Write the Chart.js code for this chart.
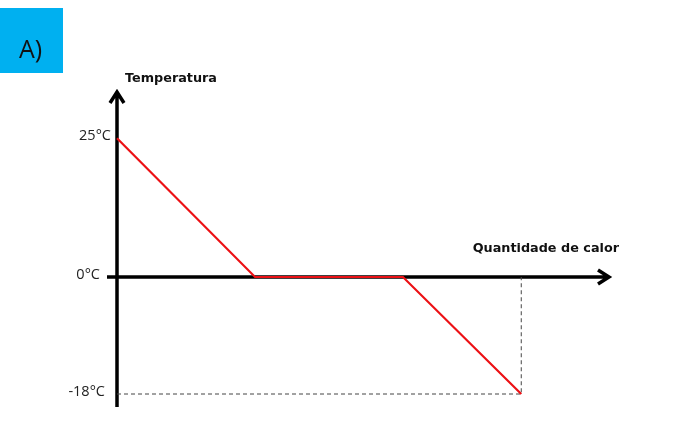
<!DOCTYPE html>
<html lang="pt">
<head>
    <meta charset="UTF-8">
    <title>Temperatura x Quantidade de calor</title>
    <script src="https://cdn.jsdelivr.net/npm/chart.js"></script>
    <style>
        body { margin: 0; background: #fff; }
        canvas { display: block; }
    </style>
</head>
<body>
    <canvas id="heatChart" width="690" height="440"></canvas>
    <script>
        // data (heat in arbitrary units)
        const heat = [0, 2.8, 5.8, 8.2];
        const temperature = [25, 0, 0, -18];
        const guideHeat = [0, 8.2, 8.2];
        const guideTemp = [-18, -18, 0];
        const tickTemps = [25, 0, -18];
        const tickLabels = ['25°C', '0°C', '-18°C'];

        // the sketch is not to scale: above and below zero use different steps
        class SplitScale extends Chart.LinearScale {
            getPixelForValue(v) {
                const z = this.options.zeroAt;
                const d = v >= 0 ? z + (1 - z) * v / this.max : z * (v - this.min) / -this.min;
                return this.getPixelForDecimal(d);
            }
            getValueForPixel(p) {
                const z = this.options.zeroAt;
                const d = this.getDecimalForPixel(p);
                return d >= z ? (d - z) / (1 - z) * this.max : this.min - d / z * this.min;
            }
        }
        SplitScale.id = 'split';
        Chart.register(SplitScale);

        const sketchAxes = {
            id: 'sketchAxes',
            beforeDatasetsDraw(chart) {
                const ctx = chart.ctx;
                const { left, right, top, bottom } = chart.chartArea;
                const ys = chart.scales.y;
                const y0 = ys.getPixelForValue(0);
                ctx.save();

                // "A)" tag
                ctx.fillStyle = '#00b0f0';
                ctx.fillRect(0, 8, 63, 65);
                ctx.fillStyle = '#111';
                ctx.font = '25px "Open Sans"';
                ctx.textBaseline = 'alphabetic';
                ctx.textAlign = 'left';
                ctx.fillText('A)', 19, 58);

                // axes with arrow heads
                ctx.strokeStyle = '#000';
                ctx.lineWidth = 3.5;
                ctx.lineJoin = 'miter';
                ctx.beginPath();
                ctx.moveTo(left, bottom);
                ctx.lineTo(left, top + 1);
                ctx.moveTo(left - 7, top + 12);
                ctx.lineTo(left, top + 1);
                ctx.lineTo(left + 7, top + 12);
                ctx.moveTo(left - 10, y0);
                ctx.lineTo(right - 1, y0);
                ctx.moveTo(right - 12, y0 - 7);
                ctx.lineTo(right - 1, y0);
                ctx.lineTo(right - 12, y0 + 7);
                ctx.stroke();

                // tick labels
                ctx.fillStyle = '#222';
                ctx.font = '14.5px "Open Sans"';
                ctx.textAlign = 'right';
                ctx.textBaseline = 'middle';
                const labelX = { 25: left - 6, 0: left - 17, '-18': left - 12 };
                tickTemps.forEach((t, i) => {
                    ctx.fillText(tickLabels[i], labelX[t], ys.getPixelForValue(t) - 2);
                });

                // axis titles
                ctx.fillStyle = '#111';
                ctx.font = 'bold 12.8px "DejaVu Sans"';
                ctx.textAlign = 'left';
                ctx.fillText('Temperatura', left + 8, top - 12);
                ctx.textAlign = 'right';
                ctx.fillText('Quantidade de calor', right + 9, y0 - 28);
                ctx.restore();
            }
        };

        new Chart(document.getElementById('heatChart'), {
            type: 'line',
            data: {
                datasets: [{
                    label: 'Temperatura',
                    data: heat.map((q, i) => ({ x: q, y: temperature[i] })),
                    borderColor: '#ec1115',
                    borderWidth: 2.2,
                    pointRadius: 0,
                    tension: 0,
                    clip: false,
                    order: 0
                }, {
                    label: 'guia',
                    data: guideHeat.map((q, i) => ({ x: q, y: guideTemp[i] })),
                    borderColor: '#444',
                    borderWidth: 1,
                    borderDash: [4, 3],
                    pointRadius: 0,
                    tension: 0,
                    clip: false,
                    order: 1
                }]
            },
            options: {
                responsive: false,
                animation: false,
                layout: { padding: { left: 117, right: 80, top: 91, bottom: 33 } },
                plugins: {
                    legend: { display: false },
                    tooltip: { enabled: false }
                },
                scales: {
                    x: { type: 'linear', min: 0, max: 10, display: false },
                    y: { type: 'split', min: -20, max: 33.5, zeroAt: 130 / 316, display: false }
                }
            },
            plugins: [sketchAxes]
        });
    </script>
</body>
</html>
